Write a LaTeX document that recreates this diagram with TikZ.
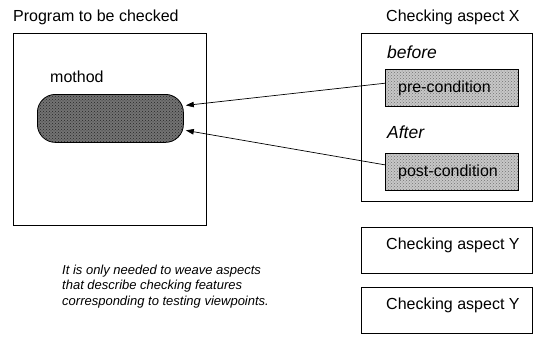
\documentclass[tikz,border=0pt]{standalone}
\usepackage{fontspec}
\setmainfont{Liberation Sans}
\usetikzlibrary{arrows.meta,calc,patterns}
\tikzset{
  frame/.style={draw, line width=0.8pt, inner sep=0pt, anchor=north west},
  shaded/.style={frame, preaction={fill=black!22}, pattern=crosshatch dots, pattern color=black!55},
  darkshaded/.style={frame, preaction={fill=black!55}, pattern=crosshatch dots, pattern color=black!85},
  label/.style={anchor=west, inner sep=0pt, font=\fontsize{16}{18}\selectfont},
  heading/.style={label, font=\fontsize{17.5}{19}\selectfont\itshape},
  note/.style={anchor=north west, inner sep=0pt, align=left, font=\fontsize{13}{15.5}\selectfont\itshape},
  link/.style={line width=0.7pt, -{Triangle[length=8pt,width=5.5pt]}}
}
\begin{document}
\begin{tikzpicture}[x=1pt, y=-1pt]
\useasboundingbox (0,0) rectangle (542,338);

% program side
\node[label] (ptitle) at (13,17) {Program to be checked};
\node[frame, minimum width=193pt, minimum height=192pt] (prog) at (13,33) {};
\node[label] (mlabel) at (50,77) {mothod};
\node[darkshaded, rounded corners=18pt, minimum width=146pt, minimum height=48pt] (method) at (37,94) {};

% checking aspect X
\node[label] (xtitle) at (386,17) {Checking aspect X};
\node[frame, minimum width=171pt, minimum height=168pt] (aspx) at (361,33) {};
\node[heading] (before) at (387,52) {before};
\node[shaded, minimum width=133pt, minimum height=37pt] (pre) at (385,69) {};
\node[label] (pretext) at (398,88) {pre-condition};
\node[heading] (after) at (387,132) {After};
\node[shaded, minimum width=133pt, minimum height=37pt] (post) at (385,153) {};
\node[label] (posttext) at (398,172) {post-condition};

% further aspects
\node[frame, minimum width=171pt, minimum height=46pt] (aspy1) at (361,227) {};
\node[label] (y1text) at (386,245) {Checking aspect Y};
\node[frame, minimum width=171pt, minimum height=46pt] (aspy2) at (361,287) {};
\node[label] (y2text) at (386,305) {Checking aspect Y};

% remark
\node[note] (remark) at (62,264.5) {It is only needed to weave aspects\\that describe checking features\\corresponding to testing viewpoints.};

% weaving links
\draw[link] (pre.176) -- ($(method.east)+(2,-13)$);
\draw[link] (post.174) -- ($(method.east)+(2,12)$);
\end{tikzpicture}
\end{document}
